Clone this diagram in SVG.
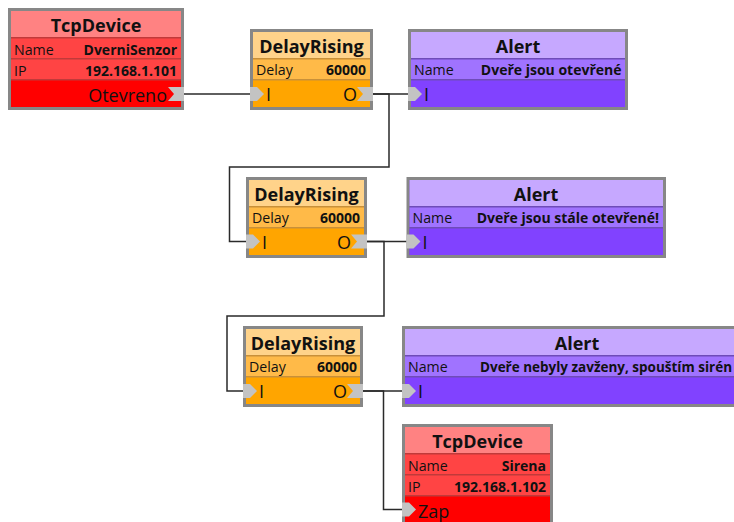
<svg xmlns="http://www.w3.org/2000/svg" width="734" height="522" viewBox="0 0 734 522">
<style>
text{font-family:"Open Sans","Noto Sans","Liberation Sans",sans-serif;fill:#111}
.title{font-size:18px;font-weight:bold;text-anchor:middle}
.lbl{font-size:14.2px}
.val{font-size:14px;font-weight:bold;text-anchor:end}
.port{font-size:18px}
.portR{font-size:18px;text-anchor:end}
.frame{fill:#878787}
.tab{fill:#c3c3c3}
.conn{fill:none;stroke:#2a2a2a;stroke-width:1.5}
.tcp .sep{fill:#c03a3a}.tcp .hd{fill:#ff8282}.tcp .row{fill:#ff4444}.tcp .pr{fill:#ff0000}
.dly .sep{fill:#c8903a}.dly .hd{fill:#ffd38a}.dly .row{fill:#ffba48}.dly .pr{fill:#ffa500}
.alr .sep{fill:#6e4cb8}.alr .hd{fill:#c6a8ff}.alr .row{fill:#a073ff}.alr .pr{fill:#8142ff}
</style>
<g id="connectors">
<path class="conn" d="M184,94 H250"/>
<path class="conn" d="M373,94 H408"/>
<path class="conn" d="M373,94 H389 V167 H229.5 V241.5 H246"/>
<path class="conn" d="M367,241.5 H406.5"/>
<path class="conn" d="M367,241.5 H384 V316 H227 V391 H243"/>
<path class="conn" d="M363,391 H402"/>
<path class="conn" d="M363,391 H383.5 V509.5 H402"/>
</g>
<g id="tcpdevice1" class="tcp">
<rect class="frame" x="8" y="8" width="176" height="102"/>
<rect class="sep" x="11" y="11" width="170" height="96"/>
<rect class="hd" x="11" y="11" width="170" height="26"/>
<rect class="row" x="11" y="38.5" width="170" height="19.5"/>
<rect class="row" x="11" y="59.5" width="170" height="19.5"/>
<rect class="pr" x="11" y="80.5" width="170" height="26.5"/>
<text class="title" x="96" y="31.5">TcpDevice</text>
<text class="lbl" x="14" y="55">Name</text>
<text class="val" x="177" y="55">DverniSenzor</text>
<text class="lbl" x="14" y="75.5">IP</text>
<text class="val" x="177" y="75.5">192.168.1.101</text>
<text class="portR" x="167" y="101.5">Otevreno</text>
<polygon class="tab" points="168,87 184,87 184,101 168,101 174,94"/>
</g>
<g id="delay1" class="dly">
<rect class="frame" x="250" y="29" width="123" height="81"/>
<rect class="sep" x="253" y="32" width="117" height="75"/>
<rect class="hd" x="253" y="32" width="117" height="26"/>
<rect class="row" x="253" y="59.5" width="117" height="19.5"/>
<rect class="pr" x="253" y="80.5" width="117" height="26.5"/>
<text class="title" x="311.5" y="52.5">DelayRising</text>
<text class="lbl" x="256" y="75">Delay</text>
<text class="val" x="366" y="75">60000</text>
<text class="port" x="266" y="101">I</text>
<text class="portR" x="357" y="101">O</text>
<polygon class="tab" points="250,87 257,87 264,94 257,101 250,101"/>
<polygon class="tab" points="357,87 373,87 373,101 357,101 363,94"/>
</g>
<g id="alert1" class="alr">
<rect class="frame" x="408" y="29" width="220" height="81"/>
<rect class="sep" x="411" y="32" width="214" height="75"/>
<rect class="hd" x="411" y="32" width="214" height="26"/>
<rect class="row" x="411" y="59.5" width="214" height="19.5"/>
<rect class="pr" x="411" y="80.5" width="214" height="26.5"/>
<text class="title" x="518" y="52.5">Alert</text>
<text class="lbl" x="414" y="75">Name</text>
<text class="val" x="621.5" y="75">Dveře jsou otevřené</text>
<text class="port" x="424" y="101">I</text>
<polygon class="tab" points="408,87 415,87 422,94 415,101 408,101"/>
</g>
<g id="delay2" class="dly">
<rect class="frame" x="246" y="177" width="121" height="81"/>
<rect class="sep" x="249" y="180" width="115" height="75"/>
<rect class="hd" x="249" y="180" width="115" height="26"/>
<rect class="row" x="249" y="207.5" width="115" height="19.5"/>
<rect class="pr" x="249" y="228.5" width="115" height="26.5"/>
<text class="title" x="306.5" y="200.5">DelayRising</text>
<text class="lbl" x="252" y="223">Delay</text>
<text class="val" x="360" y="223">60000</text>
<text class="port" x="262" y="249">I</text>
<text class="portR" x="351" y="249">O</text>
<polygon class="tab" points="246,234.5 253,234.5 260,241.5 253,248.5 246,248.5"/>
<polygon class="tab" points="351,234.5 367,234.5 367,248.5 351,248.5 357,241.5"/>
</g>
<g id="alert2" class="alr">
<rect class="frame" x="406.5" y="177" width="259.5" height="81"/>
<rect class="sep" x="409.5" y="180" width="253.5" height="75"/>
<rect class="hd" x="409.5" y="180" width="253.5" height="26"/>
<rect class="row" x="409.5" y="207.5" width="253.5" height="19.5"/>
<rect class="pr" x="409.5" y="228.5" width="253.5" height="26.5"/>
<text class="title" x="536" y="200.5">Alert</text>
<text class="lbl" x="412.5" y="223">Name</text>
<text class="val" x="659" y="223">Dveře jsou stále otevřené!</text>
<text class="port" x="422.5" y="249">I</text>
<polygon class="tab" points="406.5,234.5 413.5,234.5 420.5,241.5 413.5,248.5 406.5,248.5"/>
</g>
<g id="delay3" class="dly">
<rect class="frame" x="243" y="326" width="120" height="81"/>
<rect class="sep" x="246" y="329" width="114" height="75"/>
<rect class="hd" x="246" y="329" width="114" height="26"/>
<rect class="row" x="246" y="356.5" width="114" height="19.5"/>
<rect class="pr" x="246" y="377.5" width="114" height="26.5"/>
<text class="title" x="303" y="349.5">DelayRising</text>
<text class="lbl" x="249" y="372">Delay</text>
<text class="val" x="357" y="372">60000</text>
<text class="port" x="259" y="398">I</text>
<text class="portR" x="347" y="398">O</text>
<polygon class="tab" points="243,384 250,384 257,391 250,398 243,398"/>
<polygon class="tab" points="347,384 363,384 363,398 347,398 353,391"/>
</g>
<g id="alert3" class="alr">
<rect class="frame" x="402" y="326" width="350" height="81"/>
<rect class="sep" x="405" y="329" width="344" height="75"/>
<rect class="hd" x="405" y="329" width="344" height="26"/>
<rect class="row" x="405" y="356.5" width="344" height="19.5"/>
<rect class="pr" x="405" y="377.5" width="344" height="26.5"/>
<text class="title" x="577" y="349.5">Alert</text>
<text class="lbl" x="408" y="372">Name</text>
<text class="val" x="732" y="372" textLength="252" lengthAdjust="spacingAndGlyphs">Dveře nebyly zavženy, spouštím sirén</text>
<text class="port" x="418" y="398">I</text>
<polygon class="tab" points="402,384 409,384 416,391 409,398 402,398"/>
</g>
<g id="tcpdevice2" class="tcp">
<rect class="frame" x="402" y="424" width="151" height="102"/>
<rect class="sep" x="405" y="427" width="145" height="96"/>
<rect class="hd" x="405" y="427" width="145" height="26"/>
<rect class="row" x="405" y="454.5" width="145" height="19.5"/>
<rect class="row" x="405" y="475.5" width="145" height="19.5"/>
<rect class="pr" x="405" y="496.5" width="145" height="26.5"/>
<text class="title" x="477.5" y="447.5">TcpDevice</text>
<text class="lbl" x="408" y="471">Name</text>
<text class="val" x="546" y="471">Sirena</text>
<text class="lbl" x="408" y="491.5">IP</text>
<text class="val" x="546" y="491.5">192.168.1.102</text>
<text class="port" x="418" y="517.5">Zap</text>
<polygon class="tab" points="402,502.5 409,502.5 416,509.5 409,516.5 402,516.5"/>
</g>
</svg>
